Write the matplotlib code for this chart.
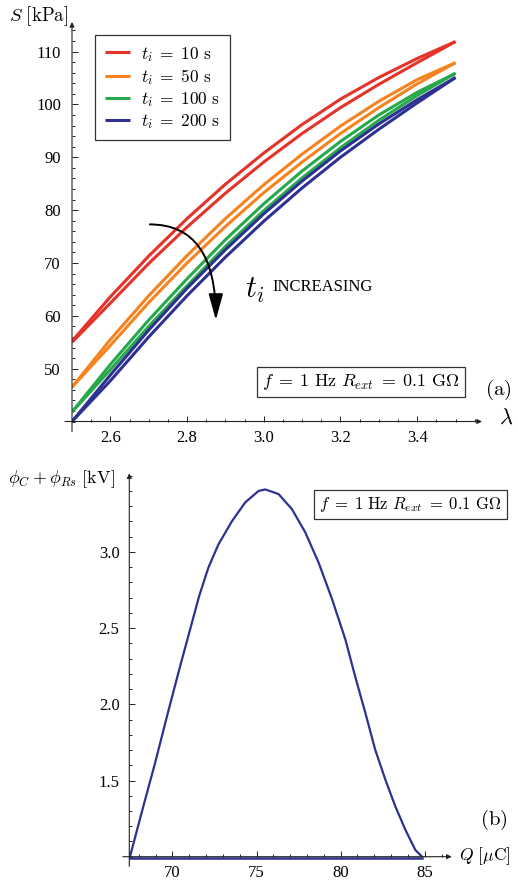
import matplotlib
matplotlib.use("Agg")
import matplotlib.pyplot as plt
from matplotlib.ticker import MultipleLocator, FormatStrFormatter

plt.rcParams["font.family"] = "serif"
plt.rcParams["font.serif"] = ["Liberation Serif", "DejaVu Serif"]
plt.rcParams["mathtext.fontset"] = "cm"

# (a) tensao S [kPa] x estiramento lambda, laco de carga/descarga por t_i
lam = [2.5, 2.6, 2.7, 2.8, 2.9, 3.0, 3.1, 3.2, 3.3, 3.4, 3.5]
red_up = [55.2, 63.6, 71.3, 78.4, 84.9, 90.8, 96.2, 101.0, 105.1, 108.7, 111.9]
red_dn = [55.0, 62.4, 69.9, 76.8, 83.2, 89.1, 94.5, 99.4, 103.8, 107.9, 111.9]
orange_up = [46.5, 55.5, 63.8, 71.4, 78.4, 84.8, 90.6, 95.9, 100.6, 104.7, 107.9]
orange_dn = [46.5, 54.4, 62.5, 70.0, 76.9, 83.3, 89.1, 94.5, 99.4, 103.9, 107.9]
green_up = [41.8, 50.8, 59.2, 67.0, 74.4, 81.2, 87.4, 93.0, 98.0, 102.3, 105.9]
green_dn = [41.8, 49.8, 58.0, 65.7, 73.1, 79.9, 86.1, 91.8, 97.0, 101.7, 105.9]
blue_up = [40.0, 48.8, 57.3, 65.2, 72.5, 79.3, 85.5, 91.2, 96.3, 100.9, 105.1]
blue_dn = [40.0, 47.7, 56.0, 63.8, 71.1, 77.9, 84.2, 90.0, 95.3, 100.3, 105.1]
rotulos_ti = [r"$t_i\;=\;10\ \mathrm{s}$", r"$t_i\;=\;50\ \mathrm{s}$",
              r"$t_i\;=\;100\ \mathrm{s}$", r"$t_i\;=\;200\ \mathrm{s}$"]

# (b) phi_C + phi_Rs [kV] x carga Q [uC]
q_sobe = [67.48, 68.27, 68.97, 69.73, 70.46, 71.05, 71.59, 72.14, 72.74, 73.53, 74.33,
          75.12, 75.52]
phi_sobe = [1.0, 1.329, 1.614, 1.943, 2.25, 2.49, 2.71, 2.897, 3.05, 3.20, 3.325,
            3.40, 3.41]
q_desce = [75.52, 76.31, 77.11, 77.9, 78.69, 79.49, 80.28, 80.87, 81.47, 82.06, 82.66,
           83.25, 83.85, 84.44, 84.84]
phi_desce = [3.41, 3.38, 3.28, 3.128, 2.93, 2.69, 2.426, 2.18, 1.943, 1.70, 1.505,
             1.33, 1.176, 1.044, 1.0]
q_volta = [84.84, 67.48]
phi_volta = [0.993, 0.993]

CORES = ["#e5332a", "#f5831f", "#27a84a", "#2e3192"]
W, H = 518, 884
CAIXA = r"$f\;=\;1\ \mathrm{Hz}\ R_{ext}\;=\;0.1\ \mathrm{G}\Omega$"


def eixos_mathematica(ax, ext_x, ext_y):
    # eixos com seta no estilo Mathematica
    for s in ax.spines.values():
        s.set_visible(False)
    ax.annotate("", xy=(0, 1), xytext=(0, -ext_y), xycoords="axes fraction",
                arrowprops=dict(arrowstyle="-|>", color="#222", lw=0.8, mutation_scale=7,
                                shrinkA=0, shrinkB=0))
    ax.annotate("", xy=(1, 0), xytext=(-ext_x, 0), xycoords="axes fraction",
                arrowprops=dict(arrowstyle="-|>", color="#222", lw=0.8, mutation_scale=7,
                                shrinkA=0, shrinkB=0))
    ax.tick_params(which="both", direction="in", color="#222", width=0.7, labelsize=12)
    ax.tick_params(which="major", length=4)
    ax.tick_params(which="minor", length=2.3)
    ax.patch.set_visible(False)


def fig_xy(x, y):
    return x / W, 1 - y / H


fig = plt.figure(figsize=(W / 100, H / 100), dpi=100)

# ---------- (a) ----------
ax1 = fig.add_axes([72 / W, 1 - 421.5 / H, 410 / W, 399.5 / H])
series = [(red_up, red_dn), (orange_up, orange_dn), (green_up, green_dn), (blue_up, blue_dn)]
handles = []
for (up, dn), cor in zip(series, CORES):
    h, = ax1.plot(lam, up, color=cor, lw=2.2, solid_capstyle="butt", solid_joinstyle="round")
    ax1.plot(lam, dn, color=cor, lw=2.2, solid_capstyle="butt", solid_joinstyle="round")
    handles.append(h)
ax1.set_xlim(2.5, 3.569)
ax1.set_ylim(40, 115.6)
ax1.set_xticks([2.6, 2.8, 3.0, 3.2, 3.4])
ax1.xaxis.set_major_formatter(FormatStrFormatter("%.1f"))
ax1.xaxis.set_minor_locator(MultipleLocator(0.05))
ax1.set_yticks([50, 60, 70, 80, 90, 100, 110])
ax1.yaxis.set_minor_locator(MultipleLocator(2))
eixos_mathematica(ax1, 0.017, 0.025)
ax1.tick_params(axis="y", pad=8)
ax1.tick_params(axis="x", pad=6)

leg = ax1.legend(handles, rotulos_ti, loc="upper left", bbox_to_anchor=fig_xy(95, 35),
                 bbox_transform=fig.transFigure, borderaxespad=0, fancybox=False,
                 edgecolor="#333", handlelength=1.45, handletextpad=0.65, labelspacing=0.18,
                 borderpad=0.55, fontsize=12.5, framealpha=1)
leg.get_frame().set_linewidth(0.9)

ax1.annotate("", xy=(2.875, 59.2), xytext=(2.703, 77.3),
             arrowprops=dict(arrowstyle="-|>,head_length=0.8,head_width=0.22", color="black",
                             lw=1.4, mutation_scale=20,
                             connectionstyle="angle3,angleA=0,angleB=90", shrinkA=0, shrinkB=0))
fig.text(*fig_xy(255, 290), r"$t_i$", fontsize=22, ha="center", va="center")
fig.text(*fig_xy(323, 287), "INCREASING", fontsize=12, ha="center", va="center")
fig.text(*fig_xy(361, 382), CAIXA, fontsize=13, ha="center", va="center",
         bbox=dict(boxstyle="square,pad=0.3", fc="white", ec="#333", lw=0.9))
fig.text(*fig_xy(39, 16), r"$S\ [\mathrm{kPa}]$", fontsize=13.5, ha="center", va="center")
fig.text(*fig_xy(506, 419), r"$\lambda$", fontsize=16, ha="center", va="center")
fig.text(*fig_xy(498, 390), r"$\mathrm{(a)}$", fontsize=15, ha="center", va="center")

# ---------- (b) ----------
ax2 = fig.add_axes([129.3 / W, 1 - 856.7 / H, 322.4 / W, 383.4 / H])
ax2.plot(q_sobe + q_desce[1:], phi_sobe + phi_desce[1:], color=CORES[3], lw=1.6,
         solid_joinstyle="round")
ax2.plot(q_volta, phi_volta, color=CORES[3], lw=1.8, clip_on=False)
ax2.set_xlim(67.44, 86.6)
ax2.set_ylim(1.0, 3.516)
ax2.set_xticks([70, 75, 80, 85])
ax2.xaxis.set_minor_locator(MultipleLocator(1))
ax2.set_yticks([1.5, 2.0, 2.5, 3.0])
ax2.yaxis.set_major_formatter(FormatStrFormatter("%.1f"))
ax2.yaxis.set_minor_locator(MultipleLocator(0.1))
eixos_mathematica(ax2, 0.02, 0.025)
ax2.tick_params(axis="y", pad=7)
ax2.tick_params(axis="x", pad=6)

fig.text(*fig_xy(410.5, 504.7), CAIXA, fontsize=12, ha="center", va="center",
         bbox=dict(boxstyle="square,pad=0.3", fc="white", ec="#333", lw=0.9))
fig.text(*fig_xy(61, 479), r"$\phi_C + \phi_{Rs}\ [\mathrm{kV}]$", fontsize=13,
         ha="center", va="center")
fig.text(*fig_xy(485, 856), r"$Q\ [\mu\mathrm{C}]$", fontsize=12.5, ha="center", va="center")
fig.text(*fig_xy(494, 820), r"$\mathrm{(b)}$", fontsize=15, ha="center", va="center")

fig.savefig("out.png", dpi=100, facecolor="white")
plt.close(fig)
